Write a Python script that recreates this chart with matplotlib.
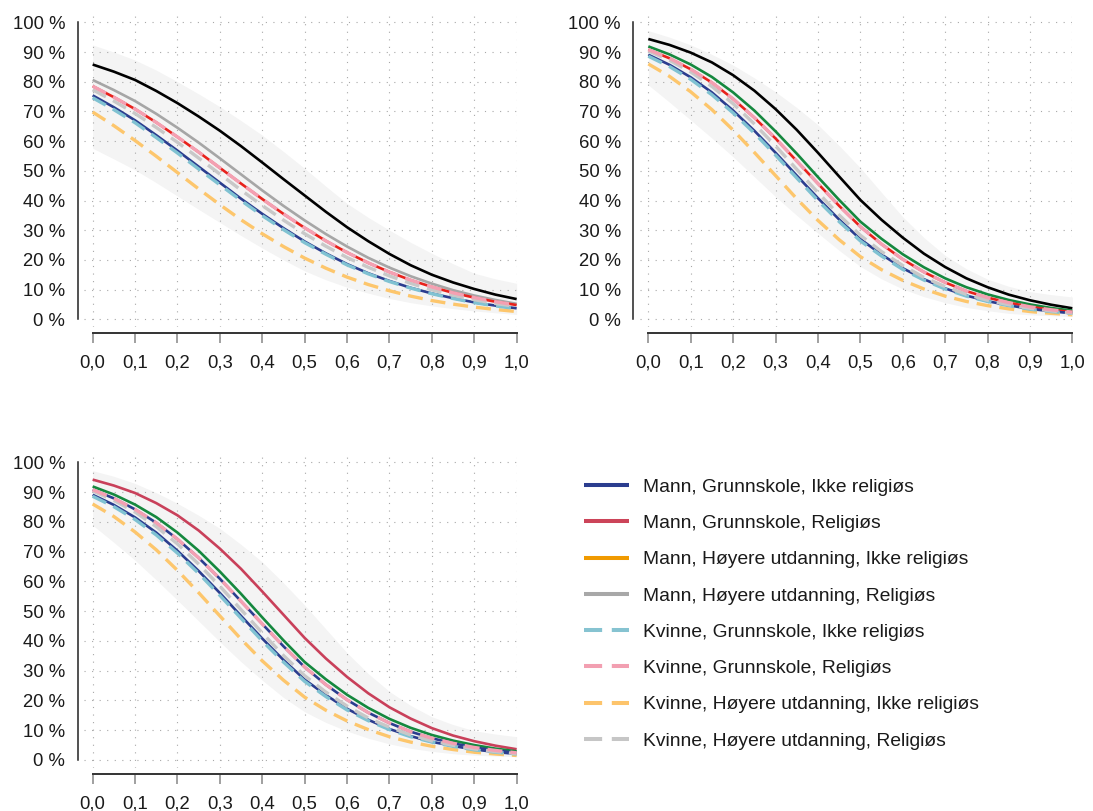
import matplotlib
matplotlib.use("Agg")
import matplotlib.pyplot as plt
from matplotlib.lines import Line2D
from matplotlib.ticker import FuncFormatter

plt.rcParams['font.family'] = ['Liberation Sans', 'DejaVu Sans']

x = [0.0, 0.05, 0.1, 0.15, 0.2, 0.25, 0.3, 0.35, 0.4, 0.45, 0.5,
     0.55, 0.6, 0.65, 0.7, 0.75, 0.8, 0.85, 0.9, 0.95, 1.0]
x_ticks = [0.0, 0.1, 0.2, 0.3, 0.4, 0.5, 0.6, 0.7, 0.8, 0.9, 1.0]
y_ticks = [0, 10, 20, 30, 40, 50, 60, 70, 80, 90, 100]

# panel 1 (top left)
band_hi_1 = [92.4, 90.0, 87.3, 83.9, 80.0, 75.9, 71.6, 66.9, 62.0, 56.5, 50.8,
             44.8, 39.0, 34.3, 30.0, 25.9, 22.2, 18.7, 15.5, 13.6, 12.1]
band_lo_1 = [57.6, 54.0, 50.3, 46.0, 41.5, 37.0, 32.6, 28.2, 24.0, 20.0, 16.3,
             13.3, 10.8, 8.8, 7.0, 5.6, 4.5, 3.6, 2.8, 2.2, 1.6]
black_1 = [85.8, 83.4, 80.6, 76.9, 72.8, 68.3, 63.5, 58.3, 52.8, 47.2, 41.7,
           36.2, 31.0, 26.3, 22.0, 18.2, 15.0, 12.4, 10.2, 8.3, 6.8]
gray_1 = [80.6, 77.2, 73.5, 69.2, 64.5, 59.5, 54.2, 48.8, 43.4, 38.2, 33.3,
          28.7, 24.5, 20.7, 17.4, 14.5, 12.0, 9.8, 8.0, 6.5, 5.2]
red_1 = [78.5, 74.8, 70.8, 66.3, 61.4, 56.3, 51.0, 45.7, 40.5, 35.5, 30.8,
         26.4, 22.5, 19.0, 15.9, 13.2, 10.9, 8.9, 7.3, 5.9, 4.8]
navy_1 = [75.4, 71.4, 67.0, 62.0, 56.8, 51.4, 46.0, 40.6, 35.5, 30.7, 26.2,
          22.2, 18.6, 15.5, 12.9, 10.6, 8.7, 7.1, 5.7, 4.6, 3.7]
pink_1 = [78.5, 74.8, 70.8, 66.3, 61.4, 56.3, 51.0, 45.7, 40.5, 35.5, 30.8,
          26.4, 22.5, 19.0, 15.9, 13.2, 10.9, 8.9, 7.3, 5.9, 4.8]
ltgray_1 = [77.3, 73.5, 69.3, 64.6, 59.6, 54.3, 48.9, 43.5, 38.3, 33.4, 28.8,
            24.6, 20.8, 17.5, 14.6, 12.1, 9.9, 8.1, 6.6, 5.3, 4.3]
ltblue_1 = [74.6, 70.6, 66.2, 61.2, 56.0, 50.6, 45.3, 40.0, 34.9, 30.2, 25.8,
            21.9, 18.3, 15.3, 12.7, 10.5, 8.6, 7.0, 5.6, 4.5, 3.6]
orange_1 = [69.8, 65.2, 60.2, 54.9, 49.4, 43.9, 38.6, 33.5, 28.8, 24.5, 20.6,
            17.2, 14.2, 11.7, 9.6, 7.8, 6.3, 5.1, 4.1, 3.3, 2.6]

# panel 2 (top right)
band_hi_2 = [97.2, 95.0, 92.4, 89.2, 85.6, 81.3, 76.6, 71.3, 65.5, 58.5, 51.0,
             42.7, 34.5, 27.5, 21.5, 17.0, 13.5, 11.1, 9.3, 8.3, 7.5]
band_lo_2 = [78.9, 73.1, 67.1, 61.0, 54.7, 48.0, 41.3, 35.0, 29.0, 23.2, 17.8,
             13.6, 10.2, 7.6, 5.6, 4.0, 2.9, 2.0, 1.5, 1.2, 0.9]
black_2 = [94.4, 92.4, 89.8, 86.5, 82.2, 77.0, 70.8, 63.8, 56.1, 48.1, 40.2,
           33.5, 27.5, 22.1, 17.6, 13.8, 10.8, 8.3, 6.4, 4.9, 3.7]
green_2 = [91.9, 89.2, 85.8, 81.6, 76.4, 70.3, 63.3, 55.8, 47.9, 40.2, 32.9,
           27.1, 21.9, 17.5, 13.8, 10.8, 8.4, 6.5, 5.0, 3.8, 2.9]
red_2 = [90.8, 87.9, 84.2, 79.7, 74.2, 67.9, 60.9, 53.3, 45.7, 38.2, 31.2,
         25.3, 20.2, 15.9, 12.4, 9.5, 7.3, 5.6, 4.2, 3.2, 2.4]
navy_2 = [89.1, 85.7, 81.5, 76.4, 70.3, 63.5, 56.1, 48.4, 40.8, 33.6, 27.0,
          21.8, 17.2, 13.5, 10.4, 8.0, 6.1, 4.7, 3.5, 2.7, 2.0]
pink_2 = [90.8, 87.9, 84.2, 79.7, 74.2, 67.9, 60.9, 53.3, 45.7, 38.2, 31.2,
          25.3, 20.2, 15.9, 12.4, 9.5, 7.3, 5.6, 4.2, 3.2, 2.4]
ltgray_2 = [90.4, 87.2, 83.3, 78.4, 72.6, 65.8, 58.4, 50.5, 42.7, 35.1, 28.3,
            22.8, 18.1, 14.1, 11.0, 8.4, 6.4, 4.9, 3.7, 2.8, 2.1]
ltblue_2 = [88.6, 85.1, 80.8, 75.6, 69.5, 62.7, 55.3, 47.6, 40.0, 32.9, 26.4,
            21.3, 16.8, 13.2, 10.2, 7.8, 6.0, 4.6, 3.4, 2.6, 2.0]
orange_2 = [86.0, 81.8, 76.6, 70.6, 63.7, 56.2, 48.4, 40.6, 33.3, 26.8, 21.1,
            16.7, 13.1, 10.2, 7.8, 6.0, 4.6, 3.5, 2.6, 2.0, 1.5]

# panel 3 (bottom left)
band_hi_3 = [97.2, 95.3, 92.9, 89.8, 86.2, 82.2, 77.8, 72.4, 66.5, 59.5, 52.0,
             44.0, 36.0, 29.0, 23.0, 18.3, 14.5, 11.9, 9.8, 8.7, 7.8]
band_lo_3 = [78.9, 73.1, 67.1, 60.5, 53.7, 46.7, 39.7, 33.0, 26.8, 21.0, 16.2,
             12.6, 9.7, 7.3, 5.4, 3.9, 2.9, 2.1, 1.6, 1.3, 1.1]
crimson_3 = [94.2, 92.2, 89.7, 86.3, 82.2, 77.1, 71.0, 64.2, 56.6, 48.8, 41.0,
             34.1, 27.9, 22.4, 17.7, 13.9, 10.7, 8.2, 6.3, 4.8, 3.6]
green_3 = [91.9, 89.2, 85.8, 81.6, 76.4, 70.3, 63.3, 55.8, 47.9, 40.2, 32.9,
           27.1, 21.9, 17.5, 13.8, 10.8, 8.4, 6.5, 5.0, 3.8, 2.9]
navyhi_3 = [90.8, 87.9, 84.2, 79.7, 74.2, 67.9, 60.9, 53.3, 45.7, 38.2, 31.2,
            25.3, 20.2, 15.9, 12.4, 9.5, 7.3, 5.6, 4.2, 3.2, 2.4]
navy_3 = [89.1, 85.7, 81.5, 76.4, 70.3, 63.5, 56.1, 48.4, 40.8, 33.6, 27.0,
          21.8, 17.2, 13.5, 10.4, 8.0, 6.1, 4.7, 3.5, 2.7, 2.0]
pink_3 = [90.8, 87.9, 84.2, 79.7, 74.2, 67.9, 60.9, 53.3, 45.7, 38.2, 31.2,
          25.3, 20.2, 15.9, 12.4, 9.5, 7.3, 5.6, 4.2, 3.2, 2.4]
ltgray_3 = [90.4, 87.2, 83.3, 78.4, 72.6, 65.8, 58.4, 50.5, 42.7, 35.1, 28.3,
            22.8, 18.1, 14.1, 11.0, 8.4, 6.4, 4.9, 3.7, 2.8, 2.1]
ltblue_3 = [88.6, 85.1, 80.8, 75.6, 69.5, 62.7, 55.3, 47.6, 40.0, 32.9, 26.4,
            21.3, 16.8, 13.2, 10.2, 7.8, 6.0, 4.6, 3.4, 2.6, 2.0]
orange_3 = [86.0, 81.8, 76.6, 70.6, 63.7, 56.2, 48.4, 40.6, 33.3, 26.8, 21.1,
            16.7, 13.1, 10.2, 7.8, 6.0, 4.6, 3.5, 2.6, 2.0, 1.5]

legend_labels = ['Mann, Grunnskole, Ikke religiøs', 'Mann, Grunnskole, Religiøs',
                 'Mann, Høyere utdanning, Ikke religiøs', 'Mann, Høyere utdanning, Religiøs',
                 'Kvinne, Grunnskole, Ikke religiøs', 'Kvinne, Grunnskole, Religiøs',
                 'Kvinne, Høyere utdanning, Ikke religiøs', 'Kvinne, Høyere utdanning, Religiøs']
legend_colors = ['#2b3d8f', '#cc4459', '#f09a00', '#a8a8a8',
                 '#86c3d1', '#f29fb1', '#fdc46b', '#c6c6c6']

NAVY, PINK, LTGRAY, LTBLUE, ORANGE = '#2b3d8f', '#f4a0b2', '#c8c8c8', '#80c2d2', '#fdc66c'
DASH = (0, (4.5, 2.4))


def draw_panel(ax, band_hi, band_lo, solids, dashed):
    ax.fill_between(x, band_lo, band_hi, color='#f4f4f4', lw=0, zorder=0.2, clip_on=False)
    for vals, col in solids:
        ax.plot(x, vals, color=col, lw=1.9, solid_capstyle='butt', zorder=2, clip_on=False)
    for vals, col in dashed:
        ax.plot(x, vals, color=col, lw=2.4, linestyle=DASH, dash_capstyle='butt', zorder=3,
                clip_on=False)

    ax.set_xlim(-0.02, 1.0)
    ax.set_ylim(-2.6, 102.8)
    ax.set_xticks(x_ticks)
    ax.set_yticks(y_ticks)
    ax.xaxis.set_major_formatter(FuncFormatter(lambda v, p: f'{v:.1f}'.replace('.', ',')))
    ax.yaxis.set_major_formatter(FuncFormatter(lambda v, p: f'{int(round(v))} %'))
    ax.grid(True, color='#a8a8a8', lw=0.8, linestyle=(0, (1, 5.8)))
    ax.set_axisbelow(True)

    for s in ['top', 'right']:
        ax.spines[s].set_visible(False)
    ax.spines['left'].set_position(('outward', 4.7))
    ax.spines['left'].set_bounds(0, 100)
    ax.spines['bottom'].set_position(('outward', 4.5))
    ax.spines['bottom'].set_bounds(0, 1)
    ax.spines['left'].set_color('#222222')
    ax.spines['bottom'].set_color('#333333')
    ax.spines['left'].set_linewidth(1.1)
    ax.spines['bottom'].set_linewidth(1.4)
    ax.tick_params(axis='y', length=0, pad=9, labelsize=13.3, labelcolor='#1a1a1a')
    ax.tick_params(axis='x', length=7.2, width=1.4, color='#a0a0a0', pad=8.2,
                   labelsize=13.3, labelcolor='#1a1a1a')


fig = plt.figure(figsize=(10.93, 8.11), dpi=100)
ax1 = fig.add_axes([0.0770, 0.5968, 0.3957, 0.3859])
ax2 = fig.add_axes([0.5854, 0.5968, 0.3957, 0.3859])
ax3 = fig.add_axes([0.0770, 0.0534, 0.3957, 0.3868])

draw_panel(ax1, band_hi_1, band_lo_1,
           [(black_1, '#000000'), (gray_1, '#a6a6a6'), (red_1, '#e8221c'), (navy_1, NAVY)],
           [(orange_1, ORANGE), (ltblue_1, LTBLUE), (ltgray_1, LTGRAY), (pink_1, PINK)])
draw_panel(ax2, band_hi_2, band_lo_2,
           [(black_2, '#000000'), (green_2, '#15883e'), (red_2, '#e8221c'), (navy_2, NAVY)],
           [(orange_2, ORANGE), (ltblue_2, LTBLUE), (ltgray_2, LTGRAY), (pink_2, PINK)])
draw_panel(ax3, band_hi_3, band_lo_3,
           [(crimson_3, '#c9405a'), (green_3, '#15883e'), (navyhi_3, NAVY), (navy_3, NAVY)],
           [(orange_3, ORANGE), (ltblue_3, LTBLUE), (ltgray_3, LTGRAY), (pink_3, PINK)])

handles = []
for i, (lab, col) in enumerate(zip(legend_labels, legend_colors)):
    ls = '-' if i < 4 else (0, (4.5, 2.4))
    handles.append(Line2D([], [], color=col, lw=2.9, linestyle=ls,
                          solid_capstyle='butt', dash_capstyle='butt'))
fig.legend(handles, legend_labels, loc='upper left', bbox_to_anchor=(584 / 1093, 1 - 478.4 / 811),
           frameon=False, fontsize=13.9, handlelength=2.34, handletextpad=0.72,
           labelspacing=0.97, borderpad=0, borderaxespad=0, labelcolor='#1a1a1a')

fig.savefig('out.png', dpi=100)
